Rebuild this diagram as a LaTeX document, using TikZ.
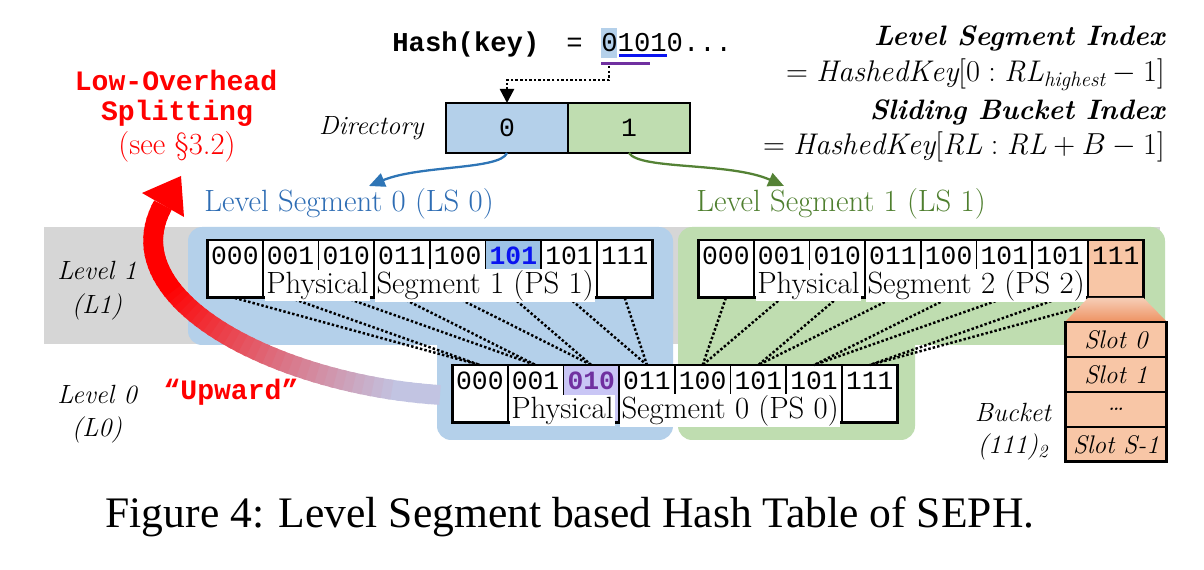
\documentclass[tikz,border=0pt]{standalone}
\usepackage{fontspec}
\newfontfamily\monof{Liberation Mono}
\newfontfamily\capf{Liberation Serif}
\usetikzlibrary{calc,arrows.meta}
\definecolor{lsblue}{HTML}{B4D0EA}
\definecolor{lsgreen}{HTML}{BFDDB0}
\definecolor{bandgray}{HTML}{D6D6D6}
\definecolor{hlblue}{HTML}{9DC3E6}
\definecolor{hllav}{HTML}{C9C6F5}
\definecolor{txtpurple}{HTML}{7030A0}
\definecolor{txtblue}{HTML}{0A14F0}
\definecolor{peach}{HTML}{F8C6A6}
\definecolor{deeporange}{HTML}{EE9262}
\definecolor{lightorange}{HTML}{F6CDB6}
\definecolor{arrblue}{HTML}{2E75B6}
\definecolor{arrgreen}{HTML}{548235}
\definecolor{lszerotext}{HTML}{2E6DB4}
\definecolor{lsonetext}{HTML}{4F7F2F}
\definecolor{tailc}{HTML}{C2C4E2}
\newcommand{\wbox}[1]{{\setlength\fboxsep{0.8pt}\colorbox{white}{#1}}}
\newcommand{\pslabel}[3]{%
  \node[lbl] (#1) at (#2) {\wbox{Physical}\hspace{3pt}\wbox{Segment #3 (PS #3)}};
}
\newcommand{\psrow}[6]{%
  \foreach \t [count=\j from 0] in {000,001,010,011,100,101,101,111}{%
    \pgfmathsetmacro\xc{#2+55.7*\j+27.85}%
    \ifnum\j=#4\relax\def\cf{#5}\def\tf{#6}\else\def\cf{white}\def\tf{}\fi
    \node[cellbox, fill=\cf] (#1\j) at (\xc,#3+29) {};
    \node[bits] at (\xc,#3+16) {\tf\t};
  }%
  \draw[line width=1.7pt] (#10.north west) rectangle (#17.south east);
}
\begin{document}
\begin{tikzpicture}[x=0.02cm,y=-0.02cm,
  bits/.style={font=\monof\fontsize{15}{15}\selectfont, inner sep=0pt},
  lbl/.style={font=\fontsize{17.5}{18}\selectfont, inner sep=0pt},
  itl/.style={font=\itshape\fontsize{15}{18}\selectfont, inner sep=0pt},
  dotl/.style={line width=1.4pt, dash pattern=on 1.4pt off 1.2pt},
  cellbox/.style={draw, line width=1pt, minimum width=1.114cm, minimum height=1.16cm, inner sep=0pt, outer sep=0pt},
  dircell/.style={draw, line width=1.3pt, minimum width=2.44cm, minimum height=1cm, inner sep=0pt, outer sep=0pt, font=\monof\fontsize{15}{15}\selectfont},
  slot/.style={draw, line width=1pt, fill=peach, minimum width=2.04cm, minimum height=0.7cm, inner sep=0pt, outer sep=0pt, font=\itshape\fontsize{14.5}{15}\selectfont},
  redmono/.style={font=\monof\bfseries\fontsize{16}{16}\selectfont, text=red, inner sep=0pt},
  rtxt/.style={anchor=east, inner sep=0pt, font=\fontsize{17}{19}\selectfont},
  rhead/.style={anchor=east, inner sep=0pt, font=\bfseries\itshape\fontsize{16}{18}\selectfont},
  curvarrow/.style={line width=1.3pt, -{Triangle[length=9pt,width=8pt]}}
]
\useasboundingbox (0,0) rectangle (1204,570);
\fill[white] (0,0) rectangle (1204,570);

% level band and level segment regions
\fill[bandgray] (44,227) rectangle (1160,344);
\fill[lsblue, rounded corners=8pt] (188,227) rectangle (673,345);
\fill[lsblue, rounded corners=8pt] (437,300) rectangle (673,440);
\fill[lsgreen, rounded corners=8pt] (678,227) rectangle (1165,345);
\fill[lsgreen, rounded corners=8pt] (678,300) rectangle (915,440);

% red upward arrow (gradient body)
\foreach \i in {0,...,49}{%
  \pgfmathsetmacro\ta{\i/50}%
  \pgfmathsetmacro\tb{min(1,(\i+1.4)/50)}%
  \pgfmathsetmacro\xa{(1-\ta)^3*440+3*(1-\ta)^2*\ta*280+3*(1-\ta)*\ta^2*110+\ta^3*163}%
  \pgfmathsetmacro\ya{(1-\ta)^3*395+3*(1-\ta)^2*\ta*385+3*(1-\ta)*\ta^2*300+\ta^3*205}%
  \pgfmathsetmacro\xb{(1-\tb)^3*440+3*(1-\tb)^2*\tb*280+3*(1-\tb)*\tb^2*110+\tb^3*163}%
  \pgfmathsetmacro\yb{(1-\tb)^3*395+3*(1-\tb)^2*\tb*385+3*(1-\tb)*\tb^2*300+\tb^3*205}%
  \pgfmathsetmacro\pc{max(0,min(100,(\ta-0.08)/0.6*100))}%
  \draw[line width=11.3pt, draw=red!\pc!tailc] (\xa,\ya) -- (\xb,\yb);
}
\fill[red] (181,176) -- (184,217) -- (142,193) -- cycle;

% physical segments
\psrow{a}{207}{240}{5}{hlblue}{\bfseries\color{txtblue}}
\psrow{b}{698}{240}{7}{peach}{}
\psrow{z}{452}{365}{2}{hllav}{\bfseries\color{txtpurple}}

% dotted mapping lines
\foreach \k in {0,...,7}{%
  \pgfmathtruncatemacro\m{int(\k/2)}%
  \pgfmathtruncatemacro\n{4+int(\k/2)}%
  \draw[dotl] (a\k.south) -- (z\m.north);
  \draw[dotl] (b\k.south) -- (z\n.north);
}

% physical segment labels on white backing
\pslabel{psa}{430,285.5}{1}
\pslabel{psb}{921,285.5}{2}
\pslabel{psz}{675,410.5}{0}

% bucket detail
\shade[top color=lightorange, bottom color=deeporange] (b7.south west) -- (b7.south east) -- (1167,322) -- (1065,322) -- cycle;
\node[slot, anchor=north west] (s0) at (1065,322) {Slot 0};
\node[slot, anchor=north] (s1) at (s0.south) {Slot 1};
\node[slot, anchor=north] (s2) at (s1.south) {\dots};
\node[slot, anchor=north] (s3) at (s2.south) {Slot S-1};
\draw[line width=1.7pt] (s0.north west) rectangle (s3.south east);
\node[itl] (bk) at (1013,412) {Bucket};
\node[itl] (bkn) at (1013,447) {(111)\textsubscript{2}};

% levels
\node[itl] (l1) at (97,270) {Level 1};
\node[itl] (l1b) at (97,307) {(L1)};
\node[itl] (l0) at (97,395) {Level 0};
\node[itl] (l0b) at (97,430) {(L0)};
\node[redmono] (up) at (231,392) {“Upward”};

% hash key
\fill[lsblue] (601,28) rectangle (617.4,58);
\node[anchor=base west, inner sep=0pt, font=\monof\bfseries\fontsize{15.5}{16}\selectfont] (hk) at (392,52) {Hash(key)};
\node[anchor=base west, inner sep=0pt, font=\monof\fontsize{15.5}{16}\selectfont] (eq) at (566,52) {=};
\node[anchor=base west, inner sep=0pt, font=\monof\fontsize{15.5}{16}\selectfont] (hv) at (601,52) {01010...};
\draw[txtblue, line width=1.6pt] (619,55.5) -- (667,55.5);
\draw[txtpurple, line width=1.6pt] (601,63.5) -- (650,63.5);
\coordinate (hb) at (609,66);

% directory
\node[dircell, fill=lsblue] (d0) at (507,128) {0};
\node[dircell, fill=lsgreen, anchor=west] (d1) at (d0.east) {1};
\node[itl, anchor=east] (dirl) at (424,128) {Directory};
\draw[dotl, -{Triangle[length=8pt,width=8pt]}] (hb) |- ($(d0.north)+(0,-23)$) -- (d0.north);

% level segment labels and arrows
\node[lbl, text=lszerotext] (ls0) at (349,204) {Level Segment 0 (LS 0)};
\node[lbl, text=lsonetext] (ls1) at (841,204) {Level Segment 1 (LS 1)};
\coordinate (ls0tip) at (369,186);
\coordinate (ls1tip) at (784,186);
\draw[arrblue, curvarrow] (d0.south) .. controls (500,170) and (420,165) .. (ls0tip);
\draw[arrgreen, curvarrow] (d1.south) .. controls (640,170) and (730,162) .. (ls1tip);

% red splitting note
\node[redmono] (lo) at (176,80) {Low-Overhead};
\node[redmono] (sp) at (177,113) {Splitting};
\node[lbl, text=red] (see) at (177,147) {(see §3.2)};

% index formulas
\node[rhead] (lsi) at (1165,38) {Level Segment Index};
\node[rtxt] (lsf) at (1165,75) {$=\mathit{HashedKey}\big[0:\mathit{RL}_{\mathit{highest}}-1\big]$};
\node[rhead] (sbi) at (1165,112) {Sliding Bucket Index};
\node[rtxt] (sbf) at (1165,147) {$=\mathit{HashedKey}[\mathit{RL}:\mathit{RL}+B-1]$};

% caption
\node[inner sep=0pt, font=\capf\fontsize{24.8}{28}\selectfont] (cap) at (570,517) {Figure 4: Level Segment based Hash Table of SEPH.};
\end{tikzpicture}
\end{document}
